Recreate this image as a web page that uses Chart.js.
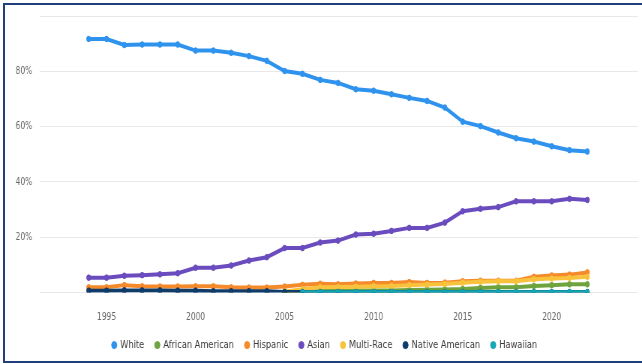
<!DOCTYPE html>
<html>
<head>
<meta charset="utf-8">
<script src="https://cdn.jsdelivr.net/npm/chart.js@4"></script>
<style>
  html, body { margin: 0; padding: 0; background: #fff; overflow: hidden; }
  body { width: 642px; height: 364px; position: relative; }
  /* chart is laid out wide and squeezed horizontally */
  #wrap { position: absolute; left: 0; top: 0; width: 856px; height: 364px;
          transform: scaleX(0.75); transform-origin: 0 0; }
  #frame { position: absolute; left: 3px; top: 3px; width: 700px; height: 356px;
           border: 2px solid #21407a; pointer-events: none; }
</style>
</head>
<body>
<div id="wrap"><canvas id="raceChart"></canvas></div>
<div id="frame"></div>
<script>
// Share of population by race, 1994-2022 (percent)
const years = [1994, 1995, 1996, 1997, 1998, 1999, 2000, 2001, 2002, 2003, 2004, 2005, 2006, 2007,
               2008, 2009, 2010, 2011, 2012, 2013, 2014, 2015, 2016, 2017, 2018, 2019, 2020, 2021, 2022];

const white =    [91.7, 91.7, 89.5, 89.7, 89.7, 89.7, 87.5, 87.5, 86.7, 85.5, 83.8, 80.1, 79.1, 76.9,
                  75.8, 73.5, 73.0, 71.7, 70.4, 69.3, 66.9, 61.8, 60.2, 57.9, 55.8, 54.6, 52.9, 51.5, 51.0];
const africanAmerican = [null, null, null, null, null, null, null, null, null, null, null, 0.3, 0.7, 0.7,
                  0.7, 0.8, 0.8, 0.8, 0.9, 1.0, 1.1, 1.3, 1.7, 1.9, 1.9, 2.4, 2.7, 3.0, 3.0];
const hispanic = [1.9, 1.9, 2.7, 2.3, 2.2, 2.2, 2.3, 2.3, 1.9, 1.8, 1.8, 2.2, 2.8, 3.2,
                  3.0, 3.3, 3.5, 3.5, 3.8, 3.5, 3.6, 4.1, 4.3, 4.3, 4.3, 5.7, 6.2, 6.5, 7.3];
const asian =    [5.4, 5.4, 6.1, 6.3, 6.6, 7.0, 9.0, 9.0, 9.8, 11.6, 12.8, 16.1, 16.1, 18.1,
                  18.8, 21.0, 21.3, 22.3, 23.4, 23.4, 25.3, 29.4, 30.3, 30.9, 33.0, 33.0, 33.0, 33.9, 33.5];
const multiRace = [null, null, null, null, null, null, null, null, null, null, null, 0.4, 1.2, 1.9,
                  2.0, 2.1, 2.3, 2.4, 2.7, 2.9, 3.1, 3.6, 3.9, 4.1, 4.1, 4.8, 5.1, 5.3, 5.7];
const nativeAmerican = [0.7, 0.7, 0.8, 0.8, 0.8, 0.7, 0.7, 0.5, 0.5, 0.5, 0.5, 0.2, 0.2, 0.2,
                  0.2, 0.2, 0.2, 0.2, 0.2, 0.2, 0.2, 0.2, 0.2, 0.2, 0.2, 0.2, 0.2, 0.2, 0.2];
const hawaiian = [null, null, null, null, null, null, null, null, null, null, null, null, 0.1, 0.1,
                  0.1, 0.1, 0.1, 0.1, 0.1, 0.1, 0.1, 0.1, 0.1, 0.1, 0.1, 0.1, 0.1, 0.1, 0.1];

const yearTicks = [1995, 2000, 2005, 2010, 2015, 2020];

const series = [
    { label: 'White', data: white, color: '#2f93ee' },
    { label: 'African American', data: africanAmerican, color: '#6fa33d' },
    { label: 'Hispanic', data: hispanic, color: '#f58a2b' },
    { label: 'Asian', data: asian, color: '#6a4cbe' },
    { label: 'Multi-Race', data: multiRace, color: '#f9c23c' },
    { label: 'Native American', data: nativeAmerican, color: '#103c6a' },
    { label: 'Hawaiian', data: hawaiian, color: '#14a8b4' }
];

const datasets = series.map((s, i) => ({
    label: s.label,
    data: years.map((y, j) => ({ x: y, y: s.data[j] })),
    borderColor: s.color,
    backgroundColor: s.color,
    pointBackgroundColor: s.color,
    borderWidth: 4,
    pointRadius: 2.8,
    pointBorderWidth: 1,
    tension: 0,
    // later series sit on top
    order: -i
}));

const ctx = document.getElementById('raceChart');
new Chart(ctx, {
    type: 'line',
    data: { datasets: datasets },
    options: {
        responsive: true,
        maintainAspectRatio: false,
        animation: false,
        layout: { padding: { top: 9.5, right: 3, bottom: 3.4, left: 13 } },
        plugins: {
            tooltip: { enabled: false },
            legend: {
                position: 'bottom',
                labels: {
                    usePointStyle: true,
                    pointStyle: 'circle',
                    boxWidth: 5,
                    boxHeight: 5,
                    padding: 15,
                    color: '#3a3a3a',
                    font: { family: 'DejaVu Sans', size: 11 },
                    sort: (a, b) => a.datasetIndex - b.datasetIndex
                }
            }
        },
        scales: {
            x: {
                type: 'linear',
                min: 1991.25,
                max: 2024.86,
                grid: { display: false, drawTicks: false },
                border: { display: false },
                afterBuildTicks: scale => {
                    scale.ticks = yearTicks.map(v => ({ value: v }));
                },
                afterFit: scale => { scale.height = 32; },
                ticks: {
                    padding: 19,
                    color: '#666',
                    font: { family: 'DejaVu Sans', size: 10 },
                    callback: v => String(v)
                }
            },
            y: {
                min: 0,
                max: 100,
                grid: { color: '#e8e8e8', drawTicks: false, lineWidth: 1 },
                border: { display: false },
                afterFit: scale => { scale.width = 40; },
                ticks: {
                    stepSize: 20,
                    padding: 10,
                    color: '#666',
                    font: { family: 'DejaVu Sans', size: 10 },
                    callback: v => (v === 0 || v === 100) ? '' : v + '%'
                }
            }
        }
    }
});
</script>
</body>
</html>
